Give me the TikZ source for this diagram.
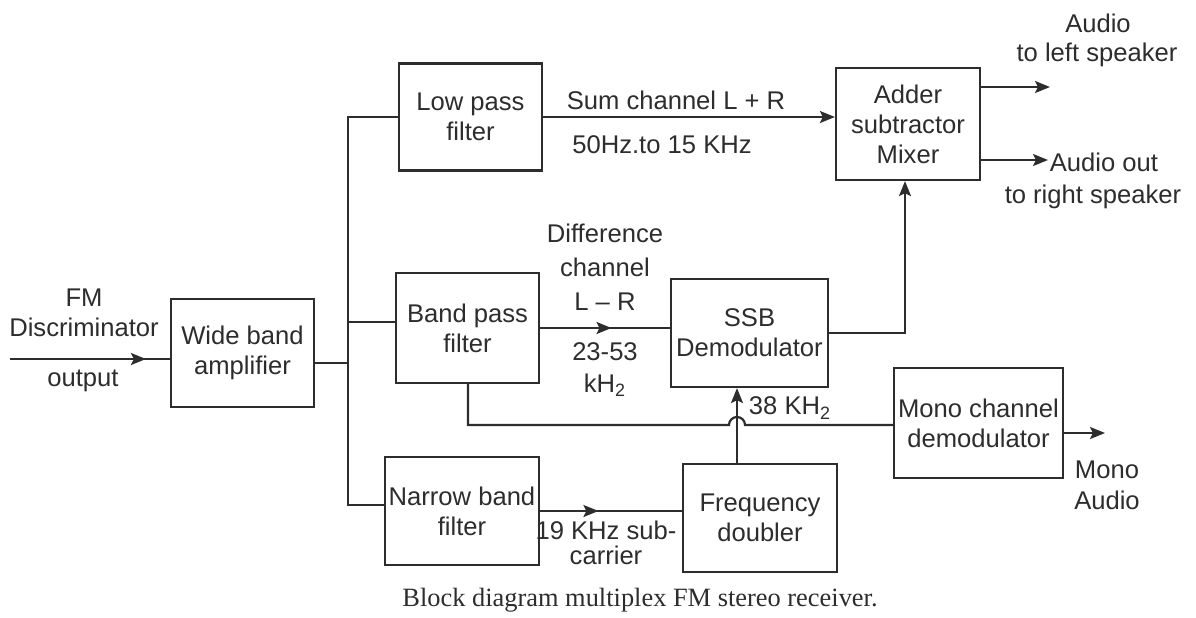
\documentclass[tikz,border=0pt]{standalone}
\usepackage{fontspec}
\setmainfont{Liberation Sans}
\newfontfamily\capfont{Liberation Serif}
\usetikzlibrary{arrows.meta,decorations.markings}
\definecolor{ink}{RGB}{45,45,45}
\tikzset{
  blk/.style={draw=ink, line width=1.1pt, align=center, inner sep=2pt, text=ink},
  lbl/.style={align=center, inner sep=0pt, text=ink},
  wire/.style={draw=ink, line width=1.1pt},
  tip/.style={-{Stealth[length=7.5pt,width=6pt,inset=1.5pt]}},
  midarrow/.style={postaction={decorate}, decoration={markings, mark=at position #1 with {\arrow{Stealth[length=7.5pt,width=6pt,inset=1.5pt]}}}}
}
\begin{document}
\begin{tikzpicture}[x=0.5pt,y=-0.5pt,font=\fontsize{12.8}{15}\selectfont]
\useasboundingbox[fill=white] (0,0) rectangle (1196,617);
% blocks
\node[blk, minimum width=71.5pt, minimum height=54pt] (amp) at (242.5,353) {Wide band\\amplifier};
\node[blk, minimum width=71.5pt, minimum height=53.5pt] (lpf) at (470.5,117) {Low pass\\filter};
\node[blk, minimum width=71.5pt, minimum height=55pt] (bpf) at (467.5,328) {Band pass\\filter};
\node[blk, minimum width=75pt, minimum height=54pt] (nbf) at (462,511) {Narrow band\\filter};
\node[blk, minimum width=78.5pt, minimum height=54pt] (ssb) at (749.5,333) {SSB\\Demodulator};
\node[blk, minimum width=77pt, minimum height=54pt] (fd) at (760,518) {Frequency\\doubler};
\node[blk, minimum width=72pt, minimum height=56pt] (add) at (908,124) {Adder\\subtractor\\Mixer};
\node[blk, minimum width=83.5pt, minimum height=55pt] (mono) at (978.5,423) {Mono channel\\demodulator};
% coordinates
\coordinate (in) at (10,359);
\coordinate (bamp) at (348,363);
\coordinate (bt) at (348,117);
\coordinate (bm) at (348,322);
\coordinate (bb) at (348,505);
\coordinate (dl) at (468,425);
\coordinate (hop) at (729,425);
\coordinate (hx) at (737,0);
\coordinate (ol) at (1050,87);
\coordinate (or) at (1048,160);
\coordinate (om) at (1105,433);
\coordinate (mx) at (905,0);
% connectors
\draw[wire, midarrow=0.85] (in) -- (in -| amp.west);
\draw[wire] (bamp -| amp.east) -- (bamp);
\draw[wire] (lpf.west) -- (bt) -- (bb) -- (bb -| nbf.west);
\draw[wire] (bm) -- (bm -| bpf.west);
\draw[wire, tip] (lpf.east) -- (lpf.east -| add.west);
\draw[wire, midarrow=0.55] (bpf.east) -- (bpf.east -| ssb.west);
\draw[wire, tip] (ssb.east) -| (mx |- add.south);
\draw[wire] (bpf.south -| dl) -- (dl) -- (hop) arc[start angle=180, end angle=0, radius=4pt] -- (hop -| mono.west);
\draw[wire, tip] (fd.north -| hx) -- (ssb.south -| hx);
\draw[wire, midarrow=0.41] (nbf.east) -- (nbf.east -| fd.west);
\draw[wire, tip] (ol -| add.east) -- (ol);
\draw[wire, tip] (or -| add.east) -- (or);
\draw[wire, tip] (om -| mono.east) -- (om);
% labels
\node[lbl] (fmd) at (84,313) {FM\\Discriminator};
\node[lbl] (outp) at (83,381) {output};
\node[lbl] (sum) at (676,100) {Sum channel L + R};
\node[lbl] (sumf) at (662,145) {50Hz.to 15 KHz};
\node[lbl] (d1) at (605,233) {Difference};
\node[lbl] (d2) at (605,267) {channel};
\node[lbl] (d3) at (605,302) {L -- R};
\node[lbl] (d4) at (605,352) {23-53};
\node[lbl] (d5) at (605,385) {kH\textsubscript{2}};
\node[lbl] (k38) at (790,408) {38 KH\textsubscript{2}};
\node[lbl] (s19) at (606,530) {19 KHz sub-};
\node[lbl] (car) at (606,555) {carrier};
\node[lbl] (al1) at (1098,23) {Audio};
\node[lbl] (al2) at (1097,55) {to left speaker};
\node[lbl] (ar1) at (1104,162) {Audio out};
\node[lbl] (ar2) at (1093,197) {to right speaker};
\node[lbl] (ma1) at (1107,470) {Mono};
\node[lbl] (ma2) at (1107,500) {Audio};
\node[lbl, font=\capfont\fontsize{13.2}{15}\selectfont] (cap) at (640,600) {Block diagram multiplex FM stereo receiver.};
\end{tikzpicture}
\end{document}
